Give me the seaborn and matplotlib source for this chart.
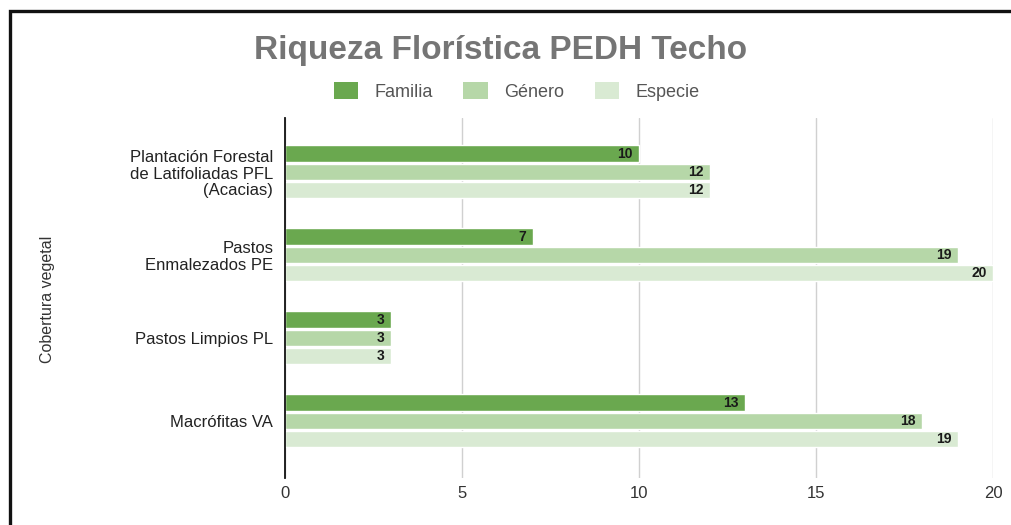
import matplotlib
matplotlib.use("Agg")
import matplotlib.pyplot as plt
from matplotlib.patches import Rectangle, Patch
import seaborn as sns
import pandas as pd

# Coverage types and richness counts per taxonomic level
coberturas = [
    "Plantación Forestal\nde Latifoliadas PFL\n(Acacias)",
    "Pastos\nEnmalezados PE",
    "Pastos Limpios PL",
    "Macrófitas VA",
]
familia = [10, 7, 3, 13]
genero = [12, 19, 3, 18]
especie = [12, 20, 3, 19]
niveles = ["Familia", "Género", "Especie"]
colores = ["#6aa84f", "#b6d7a8", "#d9ead3"]
x_ticks = [0, 5, 10, 15, 20]

rows = []
for nivel, valores in zip(niveles, [familia, genero, especie]):
    for cob, v in zip(coberturas, valores):
        rows.append({"Cobertura": cob, "Nivel": nivel, "Valor": v})
df = pd.DataFrame(rows)

sns.set_theme(style="white")
plt.rcParams["font.family"] = ["Liberation Sans", "DejaVu Sans"]

fig = plt.figure(figsize=(10.11, 5.25), dpi=100)
ax = fig.add_axes([0.2819, 0.0895, 0.7003, 0.6857])

sns.barplot(
    data=df, y="Cobertura", x="Valor", hue="Nivel",
    order=coberturas, hue_order=niveles, palette=colores,
    orient="h", width=0.66, gap=0.1, saturation=1, legend=False, ax=ax,
)

# Value labels right-aligned inside the end of each bar
for container, valores in zip(ax.containers, [familia, genero, especie]):
    for bar, v in zip(container.patches, valores):
        yc = bar.get_y() + bar.get_height() / 2
        ax.annotate(str(v), xy=(bar.get_width(), yc), xytext=(-4.5, 0),
                    textcoords="offset points", ha="right", va="center",
                    fontsize=10, fontweight="bold", color="#1a1a1a")

ax.set_xlim(0, 20)
ax.set_ylim(3.69, -0.65)
ax.set_xticks(x_ticks)
ax.set_xticklabels([str(t) for t in x_ticks], fontsize=12, color="#333333")
ax.tick_params(axis="x", length=0, pad=6)
ax.tick_params(axis="y", length=0, pad=8.5)
for lab in ax.get_yticklabels():
    lab.set_fontsize(12)
    lab.set_color("#222222")
    lab.set_linespacing(1.1)
    lab.set_horizontalalignment("right")
    lab.set_multialignment("right")

ax.xaxis.grid(True, color="#d0d0d0", linewidth=1)
ax.yaxis.grid(False)
ax.set_axisbelow(True)
for side in ["top", "right", "bottom"]:
    ax.spines[side].set_visible(False)
ax.spines["left"].set_color("#111111")
ax.spines["left"].set_linewidth(1.3)

ax.set_xlabel("")
ax.set_ylabel("")
fig.text(0.047, 0.43, "Cobertura vegetal", rotation=90, ha="center",
         va="center", fontsize=11.5, color="#333333")

fig.text(0.495, 0.903, "Riqueza Florística PEDH Techo", ha="center",
         va="center", fontsize=24, fontweight="bold", color="#757575")

handles = [Patch(facecolor=c, edgecolor="none", label=n)
           for c, n in zip(colores, niveles)]
leg = fig.legend(handles=handles, loc="center", bbox_to_anchor=(0.511, 0.826),
                 ncol=3, frameon=False, fontsize=13, handlelength=1.35,
                 handleheight=1.1, handletextpad=0.9, columnspacing=1.7)
for t in leg.get_texts():
    t.set_color("#555555")

# Outer frame of the figure
fig.add_artist(Rectangle((0.0095, -0.05), 1.2, 1.05 - 0.021, transform=fig.transFigure,
                         fill=False, edgecolor="#111111", linewidth=2.4))

fig.savefig("out.png", dpi=100)
